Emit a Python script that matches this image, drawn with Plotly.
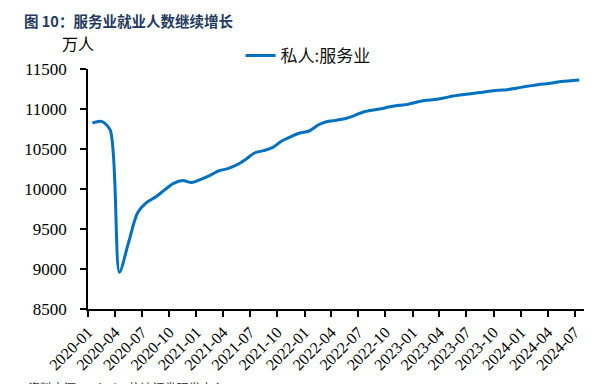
import pandas as pd
import plotly.graph_objects as go

months = pd.period_range("2020-01", "2024-07", freq="M").strftime("%Y-%m").tolist()
values = [
    10825, 10845, 10735, 8960, 9320, 9700, 9830, 9900, 9990, 10070, 10105, 10080,
    10120, 10170, 10225, 10255, 10300, 10370, 10450, 10480, 10520, 10600, 10655, 10700,
    10725, 10800, 10840, 10858, 10878, 10915, 10960, 10985, 11003, 11028, 11046, 11058,
    11088, 11108, 11118, 11138, 11162, 11178, 11192, 11205, 11222, 11233, 11242, 11260,
    11280, 11298, 11312, 11325, 11343, 11353, 11362,
]
series_name = "私人:服务业"
title_text = "图 10：服务业就业人数继续增长"
unit_text = "万人"
source_text = "资料来源：Wind，信达证券研发中心"
tick_months = months[::3]
y_ticks = [8500, 9000, 9500, 10000, 10500, 11000, 11500]

# plot each monthly value at mid-month (category centre), ticks on month boundaries
x_dates = [pd.Timestamp(m + "-01") + pd.Timedelta(days=15) for m in months]
tick_dates = [pd.Timestamp(m + "-01") for m in tick_months]

SERIF = "Liberation Serif"
CJK = "Noto Sans CJK SC"

fig = go.Figure()
fig.add_trace(go.Scatter(
    x=x_dates, y=values, mode="lines", name=series_name,
    line=dict(color="#0070C0", width=3, shape="spline", smoothing=0.8),
))

fig.update_layout(
    width=594, height=384,
    margin=dict(l=88, r=10, t=69, b=75, autoexpand=False),
    paper_bgcolor="white", plot_bgcolor="white",
    font=dict(family=SERIF, size=15, color="black"),
    showlegend=True,
    legend=dict(
        xref="container", yref="container",
        x=0.405, y=0.854, xanchor="left", yanchor="middle",
        orientation="h", bgcolor="rgba(0,0,0,0)",
        font=dict(family=CJK, size=17, color="#111111"),
        itemwidth=30,
    ),
    xaxis=dict(
        type="date", automargin=False,
        range=[pd.Timestamp("2020-01-01"), pd.Timestamp("2024-08-01")],
        tickvals=tick_dates, ticktext=tick_months,
        tickangle=-45, tickfont=dict(family=SERIF, size=16),
        showline=True, linecolor="black", linewidth=1.5,
        ticks="outside", ticklen=6, tickwidth=1.5, tickcolor="black",
        showgrid=False, zeroline=False,
    ),
    yaxis=dict(
        range=[8500, 11500], tickvals=y_ticks,
        ticktext=[str(v) for v in y_ticks], automargin=False,
        tickfont=dict(family=SERIF, size=17),
        showline=True, linecolor="black", linewidth=1.5,
        ticks="outside", ticklen=6, tickwidth=1.5, tickcolor="black",
        ticklabelstandoff=10,
        showgrid=False, zeroline=False,
    ),
)

fig.add_annotation(
    text="<b>" + title_text + "</b>", xref="paper", yref="paper",
    x=-0.133, y=1.204, xanchor="left", yanchor="middle", showarrow=False,
    font=dict(family=CJK, size=14.5, color="#243A5E"),
)
fig.add_annotation(
    text=unit_text, xref="paper", yref="paper",
    x=-0.056, y=1.108, xanchor="left", yanchor="middle", showarrow=False,
    font=dict(family=CJK, size=16, color="black"),
)
fig.add_annotation(
    text=source_text, xref="paper", yref="paper",
    x=-0.125, y=-0.283, xanchor="left", yanchor="top", showarrow=False,
    font=dict(family=CJK, size=12, color="#333333"),
)

fig.write_html(
    "out.html",
    config={"displayModeBar": False},
    post_script="document.body.style.margin='0';document.body.style.overflow='hidden';",
)
